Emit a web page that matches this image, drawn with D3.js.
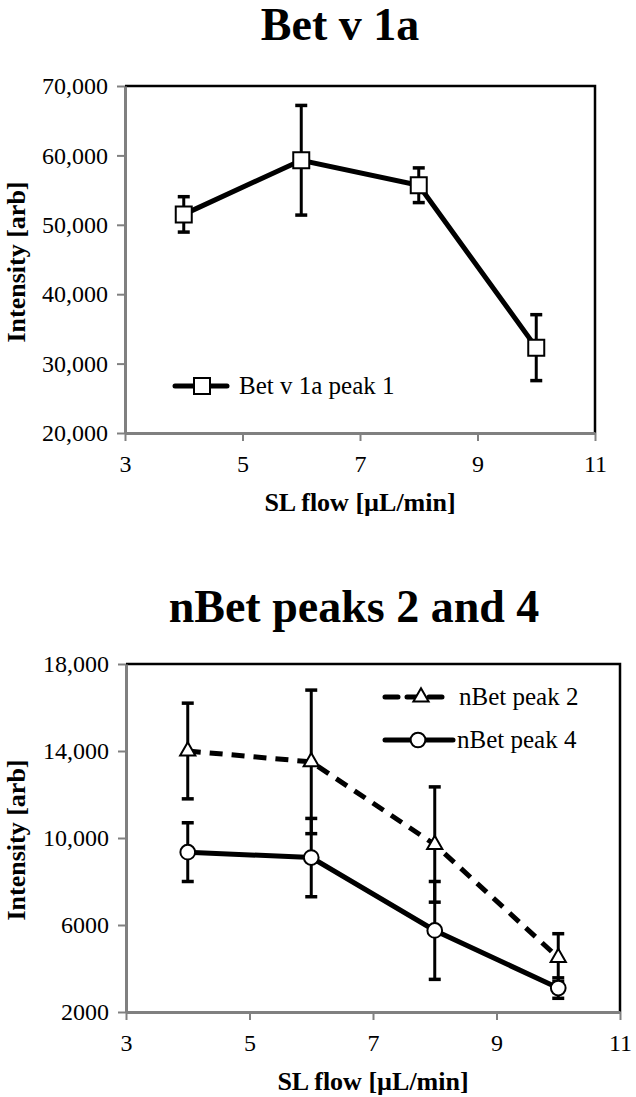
<!DOCTYPE html>
<html>
<head>
<meta charset="utf-8">
<script src="https://cdn.jsdelivr.net/npm/d3@7"></script>
<style>
  body { margin: 0; background: #fff; }
  svg text { font-family: "Liberation Serif", "DejaVu Serif", "Times New Roman", Times, serif; fill: #000; }
</style>
</head>
<body>
<div class="canvas"></div>
<script>
// SL flow values (µL/min)
const flows = [4, 6, 8, 10];
const xTicks = [3, 5, 7, 9, 11];

// Bet v 1a panel
const betPeak1 = [51500, 59300, 55700, 32300];
const betPeak1Err = [2550, 7900, 2500, 4750];
const topYTicks = [20000, 30000, 40000, 50000, 60000, 70000];
const topYLabels = ["20,000", "30,000", "40,000", "50,000", "60,000", "70,000"];

// nBet panel
const nBetPeak2 = [14000, 13500, 9700, 4500];
const nBetPeak2Err = [2200, 3300, 2650, 1100];
const nBetPeak4 = [9350, 9100, 5750, 3100];
const nBetPeak4Err = [1350, 1800, 2250, 470];
const bottomYTicks = [2000, 6000, 10000, 14000, 18000];
const bottomYLabels = ["2000", "6000", "10,000", "14,000", "18,000"];

const serif = '"Liberation Serif", "DejaVu Serif", "Times New Roman", Times, serif';

const svg = d3
  .select(".canvas")
  .append("svg")
  .attr("width", 636)
  .attr("height", 1097)
  .attr("font-family", serif);

function drawPanel(cfg) {
  const x = d3.scaleLinear().domain([3, 11]).range([cfg.left, cfg.right]);
  const y = d3
    .scaleLinear()
    .domain([cfg.yTicks[0], cfg.yTicks[cfg.yTicks.length - 1]])
    .range([cfg.bottom, cfg.top]);

  const g = svg.append("g");

  // title
  g.append("text")
    .attr("x", cfg.titleX)
    .attr("y", cfg.titleY)
    .attr("text-anchor", "middle")
    .style("font-family", serif)
    .style("font-size", "46px")
    .style("font-weight", "bold")
    .text(cfg.title);

  // top + right frame in black
  g.append("path")
    .attr("d", `M${cfg.left},${cfg.top}H${cfg.right}V${cfg.bottom}`)
    .attr("fill", "none")
    .attr("stroke", "#000")
    .attr("stroke-width", 2.5);

  const yAxis = d3
    .axisLeft(y)
    .tickValues(cfg.yTicks)
    .tickFormat((d, i) => cfg.yLabels[i])
    .tickSizeInner(8)
    .tickSizeOuter(0)
    .tickPadding(9);
  const xAxis = d3
    .axisBottom(x)
    .tickValues(xTicks)
    .tickSizeInner(8)
    .tickSizeOuter(0)
    .tickPadding(14);

  const ya = g
    .append("g")
    .attr("transform", `translate(${cfg.left},0)`)
    .call(yAxis);
  const xa = g
    .append("g")
    .attr("transform", `translate(0,${cfg.bottom})`)
    .call(xAxis);

  [ya, xa].forEach((a) => {
    a.attr("font-family", serif);
    a.select(".domain").attr("stroke", "#808080").attr("stroke-width", 3);
    a.selectAll(".tick line").attr("stroke", "#808080").attr("stroke-width", 2);
    a.selectAll(".tick text")
      .style("font-size", "24px")
      .style("font-family", serif)
      .attr("fill", "#000");
  });

  // axis titles
  g.append("text")
    .attr("x", (cfg.left + cfg.right) / 2)
    .attr("y", cfg.bottom + 78)
    .attr("text-anchor", "middle")
    .style("font-family", serif)
    .style("font-size", "26px")
    .style("font-weight", "bold")
    .text("SL flow [µL/min]");

  g.append("text")
    .attr("transform", `translate(25,${cfg.yLabelY}) rotate(-90)`)
    .attr("text-anchor", "middle")
    .style("font-family", serif)
    .style("font-size", "26px")
    .style("font-weight", "bold")
    .text("Intensity [arb]");

  const line = d3
    .line()
    .x((d) => x(d[0]))
    .y((d) => y(d[1]));

  cfg.series.forEach((s) => {
    const pts = flows.map((f, i) => [f, s.values[i], s.err[i]]);

    // error bars
    const eb = g.append("g").attr("stroke", "#000");
    eb.selectAll("line.bar")
      .data(pts)
      .enter()
      .append("line")
      .attr("x1", (d) => x(d[0]))
      .attr("x2", (d) => x(d[0]))
      .attr("y1", (d) => y(d[1] + d[2]))
      .attr("y2", (d) => y(d[1] - d[2]))
      .attr("stroke-width", 3);
    eb.selectAll("line.caphi")
      .data(pts)
      .enter()
      .append("line")
      .attr("x1", (d) => x(d[0]) - 6)
      .attr("x2", (d) => x(d[0]) + 6)
      .attr("y1", (d) => y(d[1] + d[2]))
      .attr("y2", (d) => y(d[1] + d[2]))
      .attr("stroke-width", 3.5);
    eb.selectAll("line.caplo")
      .data(pts)
      .enter()
      .append("line")
      .attr("x1", (d) => x(d[0]) - 6)
      .attr("x2", (d) => x(d[0]) + 6)
      .attr("y1", (d) => y(d[1] - d[2]))
      .attr("y2", (d) => y(d[1] - d[2]))
      .attr("stroke-width", 3.5);

    g.append("path")
      .datum(pts)
      .attr("d", line)
      .attr("fill", "none")
      .attr("stroke", "#000")
      .attr("stroke-width", 5)
      .attr("stroke-dasharray", s.dash || null);

    g.selectAll(null)
      .data(pts)
      .enter()
      .append("path")
      .attr("d", d3.symbol().type(s.symbol).size(s.size))
      .attr("transform", (d) => `translate(${x(d[0])},${y(d[1])})`)
      .attr("fill", "#fff")
      .attr("stroke", "#000")
      .attr("stroke-width", 2);

    // legend entry
    const lg = g.append("g");
    lg.append("line")
      .attr("x1", s.legend.x0)
      .attr("x2", s.legend.x1)
      .attr("y1", s.legend.y)
      .attr("y2", s.legend.y)
      .attr("stroke", "#000")
      .attr("stroke-width", 5)
      .attr("stroke-linecap", "round")
      .attr("stroke-dasharray", s.dash || null);
    lg.append("path")
      .attr("d", d3.symbol().type(s.symbol).size(s.size))
      .attr("transform", `translate(${s.legend.mx},${s.legend.y})`)
      .attr("fill", "#fff")
      .attr("stroke", "#000")
      .attr("stroke-width", 2);
    lg.append("text")
      .attr("x", s.legend.tx)
      .attr("y", s.legend.y + 8)
      .style("font-family", serif)
      .style("font-size", "25px")
      .text(s.name);
  });
}

drawPanel({
  title: "Bet v 1a",
  titleX: 340,
  titleY: 40,
  left: 125,
  right: 595,
  top: 86,
  bottom: 433,
  yTicks: topYTicks,
  yLabels: topYLabels,
  yLabelY: 262,
  series: [
    {
      name: "Bet v 1a peak 1",
      values: betPeak1,
      err: betPeak1Err,
      symbol: d3.symbolSquare,
      size: 256,
      legend: { x0: 175, x1: 227, y: 386, mx: 202, tx: 239 },
    },
  ],
});

drawPanel({
  title: "nBet peaks 2 and 4",
  titleX: 354,
  titleY: 622,
  left: 126,
  right: 620,
  top: 664,
  bottom: 1012,
  yTicks: bottomYTicks,
  yLabels: bottomYLabels,
  yLabelY: 840,
  series: [
    {
      name: "nBet peak 2",
      values: nBetPeak2,
      err: nBetPeak2Err,
      symbol: d3.symbolTriangle,
      size: 100,
      dash: "13,9",
      legend: { x0: 385, x1: 444, y: 697, mx: 421, tx: 459 },
    },
    {
      name: "nBet peak 4",
      values: nBetPeak4,
      err: nBetPeak4Err,
      symbol: d3.symbolCircle,
      size: 170,
      legend: { x0: 385, x1: 453, y: 740, mx: 418, tx: 457 },
    },
  ],
});
</script>
</body>
</html>
